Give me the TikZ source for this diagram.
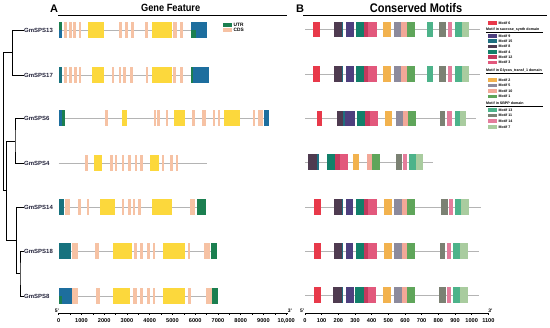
\documentclass[tikz,border=0pt]{standalone}
\usepackage{fontspec}
\setmainfont{Liberation Sans}
\definecolor{utrg}{HTML}{1B7F50}
\definecolor{utrb}{HTML}{1D6E9E}
\definecolor{utrt}{HTML}{17727E}
\definecolor{cds}{HTML}{F6C2A4}
\definecolor{cdsy}{HTML}{FCD83C}
\definecolor{intr}{HTML}{B4B4B4}
\definecolor{labc}{HTML}{22223A}
\definecolor{mA}{HTML}{E8394A}% motif 6
\definecolor{mB}{HTML}{4F3B50}% motif 8
\definecolor{mC}{HTML}{1F6F80}% motif 15
\definecolor{mD}{HTML}{4E3F7E}% motif 9
\definecolor{mE}{HTML}{12806A}% motif 4
\definecolor{mF}{HTML}{C43A5E}% motif 12
\definecolor{mG}{HTML}{E2587C}% motif 3
\definecolor{mH}{HTML}{F2B24E}% motif 2
\definecolor{mI}{HTML}{8C8A9C}% motif 5
\definecolor{mJ}{HTML}{F2A898}% motif 10
\definecolor{mK}{HTML}{5FA55A}% motif 1
\definecolor{mL}{HTML}{4DB38A}% motif 13
\definecolor{mM}{HTML}{7B8173}% motif 11
\definecolor{mN}{HTML}{E47D9C}% motif 14
\definecolor{mO}{HTML}{A9CC9F}% motif 7
\newcommand\exo[4]{\fill[#4] (#1,#3-8) rectangle (#2,#3+8);}
\newcommand\mtf[4]{\fill[#4] (#1,#3-7.8) rectangle (#2,#3+7.8);}
\newcommand\legm[3]{\fill[#3] (487.7,#1-1.8) rectangle (496.7,#1+1.8); \node[legt,anchor=west] at (498.5,#1) {#2};}
\begin{document}
\begin{tikzpicture}[x=1pt,y=-1pt,font=\bfseries,
  tree/.style={draw=black,line width=0.8pt},
  lab/.style={font=\fontsize{6}{7}\selectfont\bfseries,text=labc,inner sep=0.5pt,anchor=west},
  intron/.style={draw=intr,line width=0.6pt},
  axl/.style={draw=black,line width=0.6pt},
  tkl/.style={font=\fontsize{5.6}{6}\selectfont\bfseries,inner sep=0pt},
  legt/.style={font=\fontsize{3.6}{4}\selectfont\bfseries,inner sep=0pt},
  ttl/.style={inner sep=0pt}]
\useasboundingbox (0,0) rectangle (550,328);

% titles
\node[ttl,font=\fontsize{11}{12}\selectfont\bfseries] (pA) at (54,9) {A};
\node[ttl,font=\fontsize{11}{12}\selectfont\bfseries] (pB) at (300,8.5) {B};
\node[ttl,font=\fontsize{10.5}{12}\selectfont\bfseries,xscale=0.88] (tA) at (170.7,7.8) {Gene Feature};
\node[ttl,font=\fontsize{12.5}{14}\selectfont\bfseries,xscale=0.88] (tB) at (416,8) {Conserved Motifs};
\draw[line width=0.7pt] (58.3,15.7) -- (286.7,15.7);
\draw[line width=0.7pt] (303.3,15.7) -- (547,15.7);

% gene legend
\fill[utrg] (222.7,22.7) rectangle (232.3,26.7);
\node[legt,font=\fontsize{4.8}{5}\selectfont\bfseries,anchor=west] (lu) at (233.5,24.7) {UTR};
\fill[cds] (222.7,28.3) rectangle (232.3,31.7);
\node[legt,font=\fontsize{4.8}{5}\selectfont\bfseries,anchor=west] (lc) at (233.5,30) {CDS};

% labels
\node[lab] (g13) at (23.5,30.5) {GmSPS13};
\node[lab] (g17) at (23.5,75) {GmSPS17};
\node[lab] (g6) at (23.5,118.8) {GmSPS6};
\node[lab] (g4) at (23.5,163.3) {GmSPS4};
\node[lab] (g14) at (23.5,207) {GmSPS14};
\node[lab] (g18) at (23.5,251.5) {GmSPS18};
\node[lab] (g8) at (23.5,296) {GmSPS8};

% tree
\coordinate (n1) at (12.7,52.75);
\coordinate (r) at (3.3,121.7);
\coordinate (n2) at (6.7,190.7);
\coordinate (n3) at (15,141);
\coordinate (n4) at (16.3,240.6);
\coordinate (n5) at (20,273.75);
\draw[tree] (g13.west) -| (n1) |- (g17.west);
\draw[tree] (g6.west) -| (n3) |- (g4.west);
\draw[tree] (g18.west) -| (n5) |- (g8.west);
\draw[tree] (g14.west) -| (n4) |- (n5);
\draw[tree] (n3) -| (n2) |- (n4);
\draw[tree] (n1) -| (r) |- (n2);

% ===== gene structures =====
% GmSPS13
\draw[intron] (62,30) -- (191,30);
\fill[utrg] (58.7,22) rectangle (62,30); \fill[utrb] (58.7,30) rectangle (62,38);
\foreach \a/\b in {64.3/66.7,69.3/71.7,73.3/76,78.7/81,119.3/121.7,125/127.7,131/134.3,145.3/147.7,173.3/176.7,180/183.3} {\exo{\a}{\b}{30}{cds}}
\foreach \a/\b in {88.3/104,151.7/171.7} {\exo{\a}{\b}{30}{cdsy}}
\exo{191}{207.3}{30}{utrb} \fill[utrg] (191,30) rectangle (196,38);
% GmSPS17
\draw[intron] (62,75) -- (191,75);
\exo{58.7}{62}{75}{utrt}
\foreach \a/\b in {64.3/66.7,69/71.5,74/76.7,79/81.3,111.7/114,118.5/121,123.3/125.7,130/132.7,146/148.3,173.3/176,180/183.3} {\exo{\a}{\b}{75}{cds}}
\foreach \a/\b in {92.3/104,151.7/171.7} {\exo{\a}{\b}{75}{cdsy}}
\exo{191}{208.7}{75}{utrb} \fill[utrg] (191,67) rectangle (192.5,83);
% GmSPS6
\draw[intron] (65.3,118.5) -- (264,118.5);
\exo{58.7}{62}{118.5}{utrb} \exo{62}{65.3}{118.5}{utrg}
\foreach \a/\b in {105/108,154/155.7,157/160,165.7/168,191.7/195,201.7/206,213.3/215,218/220,253/255,258.3/263.3} {\exo{\a}{\b}{118.5}{cds}}
\foreach \a/\b in {121.7/126.7,174.3/185,224.3/240} {\exo{\a}{\b}{118.5}{cdsy}}
\exo{264}{269}{118.5}{utrb}
% GmSPS4
\draw[intron] (58.7,163) -- (206.7,163);
\foreach \a/\b in {85/88.3,110/112.7,115/117.3,121.7/124,128.3/130.7,135/137.3,140/142.7,162.3/164.3,170/172.7,175.7/177.7} {\exo{\a}{\b}{163}{cds}}
\foreach \a/\b in {94/101.7,150/159.3} {\exo{\a}{\b}{163}{cdsy}}
% GmSPS14
\draw[intron] (64,207.5) -- (196.7,207.5);
\exo{58.7}{64}{207.5}{utrt}
\foreach \a/\b in {65/70,78.3/80.7,86.7/89.3,121.7/124,128.3/130.7,132.7/135,138.3/140.7,190/195} {\exo{\a}{\b}{207.5}{cds}}
\foreach \a/\b in {100/115,151.7/171.7} {\exo{\a}{\b}{207.5}{cdsy}}
\exo{196.7}{205.7}{207.5}{utrg}
% GmSPS18
\draw[intron] (70.7,251.5) -- (210.7,251.5);
\exo{58.7}{70.7}{251.5}{utrt}
\foreach \a/\b in {71.7/78.3,95/99.3,134/136.7,140/143,146.7/150,153/155,188.3/190,204/210} {\exo{\a}{\b}{251.5}{cds}}
\foreach \a/\b in {113.3/131.7,163.3/185} {\exo{\a}{\b}{251.5}{cdsy}}
\exo{210.7}{216.7}{251.5}{utrg}
% GmSPS8
\draw[intron] (72,296) -- (211.7,296);
\exo{58.7}{72}{296}{utrb} \fill[utrg] (58.7,296) rectangle (62,304);
\foreach \a/\b in {72/78.3,95.7/100,133.3/136.7,140/142.7,146.7/150,153/155.3,188.3/190.7,205.7/211.7} {\exo{\a}{\b}{296}{cds}}
\foreach \a/\b in {112.7/130,163.3/185} {\exo{\a}{\b}{296}{cdsy}}
\exo{211.7}{218.3}{296}{utrg}

% gene axis
\draw[axl] (58.7,313.3) -- (288,313.3);
\foreach \v/\t in {0/0,1/1000,2/2000,3/3000,4/4000,5/5000,6/6000,7/7000,8/8000,9/9000,10/{10,000}} {
  \draw[axl] (58.7+22.75*\v,313.3) -- (58.7+22.75*\v,315.5);
  \node[tkl] at (58.7+22.75*\v,321) {\t};}
\foreach \v in {0,...,9} {\draw[axl,line width=0.4pt] (70.1+22.75*\v,313.3) -- (70.1+22.75*\v,314.6);}
\node[tkl,font=\fontsize{5}{5}\selectfont\bfseries] at (57,310.5) {5'};
\node[tkl,font=\fontsize{5}{5}\selectfont\bfseries] at (290,310.5) {3'};

% ===== motifs =====
% GmSPS13
\draw[intron] (305,29.5) -- (480,29.5);
\foreach \a/\b/\c in {313.3/320/mA,334.3/342/mB,342/343.3/mC,346/354.3/mD,356/364/mE,364/368.3/mF,368.3/377.3/mG,383.3/390.7/mH,394/401/mI,401/406.7/mJ,406.7/415/mK,426.7/433.3/mL,439.3/446/mM,448/451.7/mN,455/461.7/mL,461.7/469.3/mO} {\mtf{\a}{\b}{29.5}{\c}}
% GmSPS17
\draw[intron] (305,74) -- (480,74);
\foreach \a/\b/\c in {313.3/320/mA,334.3/342/mB,342/343.3/mC,346/354.3/mD,356/364/mE,364/368.3/mF,368.3/377.3/mG,383.3/390.7/mH,394/401/mI,401/406.7/mJ,406.7/415/mK,426.7/433.3/mL,439.3/446/mM,448/451.7/mN,455/461.7/mL,461.7/469.3/mO} {\mtf{\a}{\b}{74}{\c}}
% GmSPS6
\draw[intron] (305,118.5) -- (476,118.5);
\foreach \a/\b/\c in {316.7/322.3/mA,336.7/343.3/mB,343.3/345/mC,345/355/mD,356.7/365/mE,365/370/mF,370/378.3/mG,385/392.3/mH,395.7/403.3/mI,403.3/408.3/mJ,408.3/416/mK,440/445/mM,447.3/451.7/mN,455/460/mL,460/466/mO} {\mtf{\a}{\b}{118.5}{\c}}
% GmSPS4
\draw[intron] (305,162) -- (433.3,162);
\foreach \a/\b/\c in {308.3/316.7/mB,316.7/319.3/mC,326.7/335/mE,335/340/mF,340/347.7/mG,352.7/359.3/mH,367.3/371.7/mJ,371.7/380/mK,396/401.7/mM,403.3/406.7/mN,409.3/416/mL,416/423.3/mO} {\mtf{\a}{\b}{162}{\c}}
% GmSPS14
\draw[intron] (305,207) -- (480.7,207);
\foreach \a/\b/\c in {314/320.7/mA,334/341.5/mB,341.5/342.7/mC,346/353.3/mD,356/364/mE,364/368.3/mF,368.3/376.7/mG,384/391.7/mH,394/401.7/mI,401.7/406.7/mJ,406.7/415/mK,441/447.7/mM,449.3/452.7/mN,455/461/mL,461/469.3/mO} {\mtf{\a}{\b}{207}{\c}}
% GmSPS18
\draw[intron] (305,251) -- (479,251);
\foreach \a/\b/\c in {314/320.7/mA,334/341.5/mB,341.5/342.7/mC,346/353.3/mD,356/364/mE,364/368.3/mF,368.3/376.7/mG,384/391.7/mH,394/401.7/mI,401.7/406.7/mJ,406.7/415/mK,440/445/mM,447.3/450.7/mN,453.3/460/mL,460/467.7/mO} {\mtf{\a}{\b}{251}{\c}}
% GmSPS8
\draw[intron] (305,295) -- (479.3,295);
\foreach \a/\b/\c in {314.3/320.7/mA,333.3/342/mB,342/343.3/mC,346/354/mD,355.3/364/mE,364/368.3/mF,368.3/376/mG,383.3/391/mH,394/401.7/mI,401.7/406.7/mJ,407.3/415.3/mK,439/445.7/mM,446.7/451/mN,453.3/460/mL,460/468.3/mO} {\mtf{\a}{\b}{295}{\c}}

% motif axis
\draw[axl] (305,313.3) -- (488.3,313.3);
\foreach \v in {0,...,11} {
  \pgfmathtruncatemacro\lbl{100*\v}
  \draw[axl] (305+16.667*\v,313.3) -- (305+16.667*\v,315.5);
  \node[tkl] at (305+16.667*\v,321) {\lbl};}
\node[tkl,font=\fontsize{5}{5}\selectfont\bfseries] at (302.3,310.5) {5'};
\node[tkl,font=\fontsize{5}{5}\selectfont\bfseries] at (490.5,310.5) {3'};

% motif legend
\legm{23}{Motif 6}{mA}
\node[legt,anchor=west] (h1) at (486,29.3) {Motif in sucrose\_synth domain};
\draw[line width=0.5pt] (486,32) -- (543,32);
\legm{36}{Motif 9}{mD}
\legm{41.3}{Motif 15}{mC}
\legm{46.6}{Motif 8}{mB}
\legm{51.9}{Motif 4}{mE}
\legm{57.2}{Motif 12}{mF}
\legm{62.5}{Motif 3}{mG}
\node[legt,anchor=west] (h2) at (486,70.5) {Motif in Glycos\_transf\_1 domain};
\draw[line width=0.5pt] (486,73.3) -- (543,73.3);
\legm{80}{Motif 2}{mH}
\legm{85.6}{Motif 5}{mI}
\legm{91.1}{Motif 10}{mJ}
\legm{96.6}{Motif 1}{mK}
\node[legt,anchor=west] (h3) at (486,103.3) {Motif in SBPP domain};
\draw[line width=0.5pt] (486,106) -- (543,106);
\legm{110}{Motif 13}{mL}
\legm{115.6}{Motif 11}{mM}
\legm{121.2}{Motif 14}{mN}
\legm{126.8}{Motif 7}{mO}
\end{tikzpicture}
\end{document}
